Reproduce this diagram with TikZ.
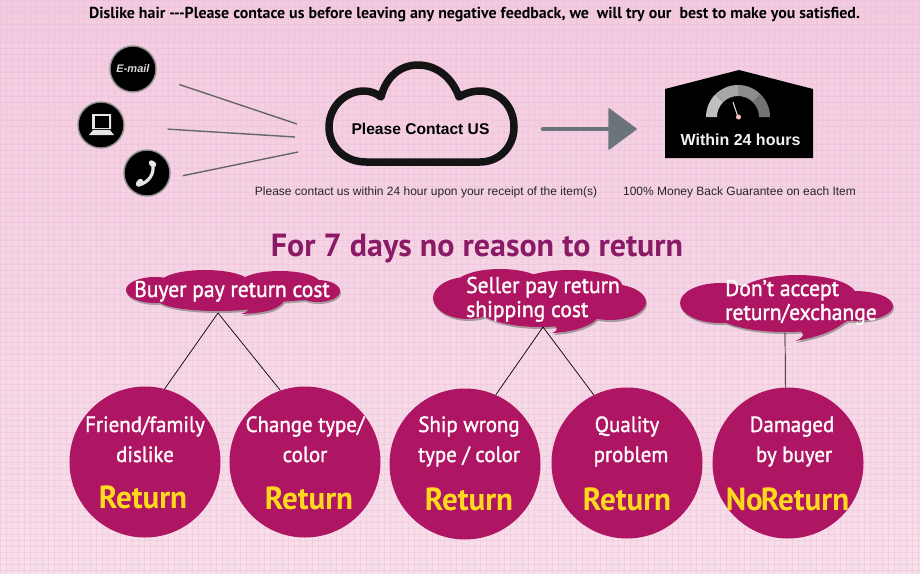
\documentclass[tikz,border=0pt]{standalone}
\usepackage{fontspec}
\setmainfont{PT Sans}
\newfontfamily\arialf{Liberation Sans}
\newfontfamily\myr[FakeStretch=0.95,FakeBold=1.5]{PT Sans}
\newfontfamily\myb[FakeStretch=0.95,FakeBold=1.5]{PT Sans}
\newfontfamily\myret[FakeStretch=0.97]{PT Sans Bold}
\usetikzlibrary{calc}
\definecolor{plum}{HTML}{AE1562}
\definecolor{plumdark}{HTML}{8A1A66}
\definecolor{bgtop}{HTML}{F3CBE0}
\definecolor{bgbot}{HTML}{F7DFEA}
\definecolor{gridc}{HTML}{EDBBD5}
\definecolor{gold}{HTML}{FFD91E}
\definecolor{arrowc}{HTML}{6A747A}
\newcommand\fs[1]{\fontsize{#1}{#1}\selectfont}
\tikzset{
  big/.style={circle,fill=plum,minimum size=151pt,inner sep=0pt},
  wtext/.style={text=white!94!pink,font=\myr\fs{22},inner sep=0pt,anchor=base},
  ret/.style={text=gold,font=\myret\fs{32},inner sep=0pt,anchor=base},
  bub/.style={text=white!94!pink,font=\myb\fs{22.7},inner sep=0pt,anchor=base west},
  icon/.style={circle,fill=black,draw=black!45,line width=1.4pt,minimum size=46pt,inner sep=0pt},
  link/.style={draw=black!60,line width=1.4pt},
  thin link/.style={draw=black,line width=.7pt},
  captext/.style={text=black!85,font=\arialf\fs{12},inner sep=0pt},
}
\newcommand\bubA{(233,291) ellipse [x radius=107,y radius=12]
  (155,290) ellipse [x radius=29,y radius=13]
  (205,283) ellipse [x radius=45,y radius=13]
  (280,283) ellipse [x radius=40,y radius=12]
  (318,291) ellipse [x radius=22,y radius=11]
  (218,300) ellipse [x radius=60,y radius=11]
  (285,300) .. controls (278,311) and (262,313) .. (241,314) .. controls (250,311) and (252,308) .. (245,303) -- cycle}
\newcommand\bubB{(468,298) ellipse [x radius=35,y radius=21]
  (500,285) ellipse [x radius=45,y radius=16]
  (570,285) ellipse [x radius=52,y radius=15]
  (610,302) ellipse [x radius=36,y radius=18]
  (540,305) ellipse [x radius=65,y radius=22]
  (600,315) .. controls (595,325) and (575,332) .. (552,333) .. controls (560,330) and (558,327) .. (548,322) -- cycle}
\newcommand\bubC{(720,303) ellipse [x radius=40,y radius=20]
  (797,295) ellipse [x radius=59,y radius=20]
  (855,306) ellipse [x radius=38,y radius=15]
  (785,312) ellipse [x radius=70,y radius=20]
  (850,315) .. controls (845,326) and (825,336) .. (795,341) .. controls (806,337) and (805,332) .. (795,328) -- cycle}
\begin{document}
\begin{tikzpicture}[x=1pt,y=-1pt]
\useasboundingbox (0,0) rectangle (920,573);
\shade[top color=bgtop,bottom color=bgbot] (0,0) rectangle (920,573);
\foreach \i in {0,...,153} \draw[gridc,line width=.6pt,opacity=.4] ({\i*6},0) -- ({\i*6},573);
\foreach \i in {0,...,95} \draw[gridc,line width=.6pt,opacity=.4] (0,{\i*6}) -- (920,{\i*6});

\node[font=\fs{15.9}\bfseries,inner sep=0pt] (top) at (474.5,15) {Dislike hair -{}-{}-Please contace us before leaving any negative feedback, we\ \ will try our\ \ best to make you satisfied.};

% icons
\node[icon] (mail) at (133,69) {};
\node[text=black!15,font=\arialf\fs{11}\bfseries\itshape,inner sep=0pt] (mailtx) at (133,69) {E-mail};
\node[icon] (lap) at (101,125) {};
\fill[black!10] (92,114) rectangle (111,129) (89,135) -- (93,130) -- (110,130) -- (114,135) -- cycle;
\fill[black] (94.5,116) rectangle (108.5,127.5);
\node[icon] (phone) at (147,173) {};
\draw[black!10,line width=3.2pt,line cap=round] (152.5,163) .. controls (155,174) and (149,182) .. (139,185);
\draw[black!10,line width=5.5pt,line cap=round] (151.5,163) -- (153.5,164.5);
\draw[black!10,line width=5.5pt,line cap=round] (138.5,184) -- (140.5,181.5);

% cloud
\node[font=\arialf\fs{15.6}\bfseries,inner sep=0pt] (cloud) at (420.5,128.5) {Please Contact US};
\draw[black!92,line width=7.5pt,line join=round]
 (366,162) .. controls (345,162) and (329,147) .. (329,127)
 .. controls (329,107) and (345,91) .. (364,91)
 .. controls (370,91) and (376,93) .. (381,97)
 .. controls (386,77) and (400,65) .. (418,65)
 .. controls (436,65) and (452,77) .. (459,97)
 .. controls (465,93) and (473,91) .. (480,91)
 .. controls (500,91) and (514,107) .. (514,127)
 .. controls (514,147) and (499,162) .. (480,162) -- cycle;
\coordinate (in1) at (297,124);
\coordinate (in2) at (295,137);
\coordinate (in3) at (298,152);
\draw[link,shorten <=25pt] (mail) -- (in1);
\draw[link,shorten <=43pt] (lap) -- (in2);
\draw[link,shorten <=13pt] (phone.-13) -- (in3);

% arrow
\coordinate (arA) at (543,129);
\coordinate (arB) at (612,129);
\draw[arrowc,line width=4.5pt,line cap=round] (arA) -- (arB);
\fill[arrowc,draw=arrowc,line width=1.5pt,line join=round] (609,109) -- (636,129) -- (609,149) -- cycle;

% house
\fill[black] (665,89) -- (739,70) -- (813,89) -- (813,158) -- (665,158) -- cycle;
\fill[black!25] (706,117) arc[start angle=180,end angle=225,radius=32] -- (723.15,102.15) arc[start angle=225,end angle=180,radius=21] -- cycle;
\fill[black!35] (715.37,94.37) arc[start angle=225,end angle=270,radius=32] -- (738,96) arc[start angle=270,end angle=225,radius=21] -- cycle;
\fill[black!45] (738,85) arc[start angle=270,end angle=315,radius=32] -- (752.85,102.15) arc[start angle=315,end angle=270,radius=21] -- cycle;
\fill[black!55] (760.63,94.37) arc[start angle=315,end angle=360,radius=32] -- (759,117) arc[start angle=360,end angle=315,radius=21] -- cycle;
\draw[black!10,line width=1pt] (733,102) -- (738,117);
\fill[pink] (738.5,117) circle (2.5);
\node[text=black!5,font=\arialf\fs{16}\bfseries,inner sep=0pt] (within) at (740.5,139.5) {Within 24 hours};

\node[captext] (cap1) at (426,192) {Please contact us within 24 hour upon your receipt of the item(s)};
\node[captext] (cap2) at (739.5,192) {100\% Money Back Guarantee on each Item};

\node[text=plumdark,font=\fs{32}\bfseries,inner sep=0pt] (title) at (477,249) {For 7 days no reason to return};

% circles
\node[big] (c1) at (145,462) {};
\node[big] (c2) at (305,462) {};
\node[big] (c3) at (465,464) {};
\node[big] (c4) at (627,463) {};
\node[big] (c5) at (788,463) {};

% bubbles
\fill[black!55,opacity=.6,shift={(1,2)}] \bubA;
\fill[plum] \bubA;
\fill[black!55,opacity=.6,shift={(1,2)}] \bubB;
\fill[plum] \bubB;
\fill[black!55,opacity=.6,shift={(1,2)}] \bubC;
\fill[plum] \bubC;
\node[bub] (b1) at (134,297) {Buyer pay return cost};
\node[bub] (b2a) at (466,293) {Seller pay return};
\node[bub] (b2b) at (466,317) {shipping cost};
\node[bub] (b3a) at (725,296) {Don’t accept};
\node[bub] (b3b) at (725,320) {return/exchange};

\coordinate (apexA) at (218,313);
\coordinate (apexB) at (543,327);
\coordinate (apexC) at (785,333);
\draw[thin link] (apexA) -- (c1.75);
\draw[thin link] (apexA) -- (c2.109);
\draw[thin link] (apexB) -- (c3.66);
\draw[thin link] (apexB) -- (c4.116);
\draw[thin link] (apexC) -- (c5.92);

% circle texts
\node[wtext] (t1a) at (145,432) {Friend/family};
\node[wtext] (t1b) at (145,462) {dislike};
\node[ret] (r1) at (143,508) {Return};
\node[wtext] (t2a) at (305,432) {Change type/};
\node[wtext] (t2b) at (305,462) {color};
\node[ret] (r2) at (309,509) {Return};
\node[wtext] (t3a) at (469,432) {Ship wrong};
\node[wtext] (t3b) at (469,462) {type / color};
\node[ret] (r3) at (469,510) {Return};
\node[wtext] (t4a) at (627,432) {Quality};
\node[wtext] (t4b) at (631,462) {problem};
\node[ret] (r4) at (627,510) {Return};
\node[wtext] (t5a) at (792,432) {Damaged};
\node[wtext] (t5b) at (794,462) {by buyer};
\node[ret] (r5) at (787.5,510) {No\kern-2pt Return};
\end{tikzpicture}
\end{document}
